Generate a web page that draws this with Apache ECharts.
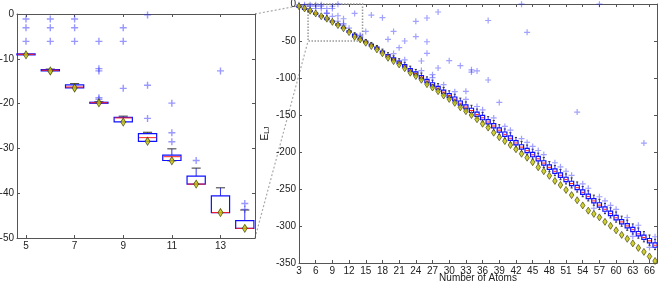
<!DOCTYPE html>
<html><head><meta charset="utf-8">
<script src="https://cdn.jsdelivr.net/npm/echarts@6/dist/echarts.min.js"></script>
<style>html,body{margin:0;padding:0;background:#fff}#c{width:658px;height:282px}</style>
</head><body><div id="c"></div>
<script>
const atoms = [3,4,5,6,7,8,9,10,11,12,13,14,15,16,17,18,19,20,21,22,23,24,25,26,27,28,29,30,31,32,33,34,35,36,37,38,39,40,41,42,43,44,45,46,47,48,49,50,51,52,53,54,55,56,57,58,59,60,61,62,63,64,65,66,67];
const globalMin = [-3.000,-6.000,-9.104,-12.712,-16.505,-19.821,-24.113,-28.422,-32.766,-37.968,-44.327,-47.845,
 -52.323,-56.816,-61.318,-66.531,-72.660,-77.177,-81.685,-86.810,-92.844,-97.349,
 -102.373,-108.316,-112.874,-117.822,-123.587,-128.287,-133.586,-139.636,-144.843,-150.045,
 -155.757,-161.826,-167.034,-173.928,-180.033,-185.250,-190.536,-196.278,-202.365,-207.689,
 -213.785,-220.680,-226.013,-232.200,-239.092,-244.550,-251.254,-258.230,-265.203,-272.209,
 -279.248,-283.643,-288.343,-294.378,-299.738,-305.876,-312.009,-317.354,-323.490,-329.620,
 -334.972,-341.111,-347.252];
const whiskerLow = [-3,-6,-9.10,-12.71,-16.50,-19.82,-24.11,-28.42,-32.77,-37.97,-44.33,-47.85,
 -52.3,-56.8,-61.3,-66.5,-72.7,-77.2,-81.7,-86.8,-92.8,-97.3,-102.4,-108.3,-112.9,-117.8,-123.6,-128.3,-133.6,-139.6,-144.8,-149.6,
 -154.9,-159.6,-165.3,-170.7,-176.3,-182.0,-187.4,-193.6,-199.2,-204.0,-209.6,-215.1,-220.9,-226.6,-232.0,-237.4,-243.2,-248.6,-254.1,-260.4,
 -266.1,-272.0,-277.7,-283.3,-289.1,-294.8,-300.4,-305.8,-310.9,-316.5,-321.4,-326.0,-331.9];
const boxLow = [-3,-6,-9.10,-12.70,-16.50,-19.82,-24.10,-28.42,-32.70,-37.97,-44.33,-47.85,
 -52.3,-56.6,-60.9,-66.1,-71.6,-76.1,-80.4,-85.4,-91.0,-95.7,-100.8,-106.3,-110.9,-115.9,-121.3,-126.1,-131.0,-136.6,-141.8,-146.6,
 -151.9,-156.4,-162.1,-167.5,-173.1,-178.8,-184.2,-190.4,-196.0,-200.8,-206.4,-211.9,-217.7,-223.4,-228.8,-234.2,-240.0,-245.4,-250.9,-257.2,
 -262.9,-268.8,-274.5,-280.1,-285.9,-291.6,-297.2,-302.6,-307.7,-313.3,-318.2,-322.8,-328.7];
const medians = [-3,-6,-9.00,-12.55,-16.30,-19.80,-23.20,-27.60,-31.85,-37.97,-44.33,-47.85,
 -51.3,-55.6,-59.8,-65.0,-70.2,-74.7,-78.9,-83.8,-89.3,-93.9,-98.9,-104.3,-108.9,-113.8,-119.1,-123.8,-128.6,-134.1,-139.3,-144.0,
 -149.3,-153.8,-159.5,-164.9,-170.5,-176.2,-181.5,-187.8,-193.4,-198.2,-203.8,-209.2,-215.0,-220.7,-226.1,-231.5,-237.3,-242.7,-248.2,-254.5,
 -260.2,-266.1,-271.8,-277.4,-283.2,-288.9,-294.5,-299.9,-305.0,-310.6,-315.5,-320.1,-326.0];
const boxHigh = [-3,-6,-8.90,-12.40,-15.80,-19.70,-23.06,-26.70,-31.50,-36.20,-40.60,-46.10,
 -50.1,-54.3,-58.4,-63.5,-68.5,-72.9,-77.0,-81.8,-87.2,-91.7,-96.6,-101.9,-106.4,-111.2,-116.4,-121.0,-125.7,-131.1,-136.2,-140.9,
 -146.1,-150.6,-156.3,-161.7,-167.3,-173.0,-178.3,-184.6,-190.2,-195.0,-200.6,-206.0,-211.8,-217.5,-222.9,-228.3,-234.1,-239.5,-245.0,-251.3,
 -257.0,-262.9,-268.6,-274.2,-280.0,-285.7,-291.3,-296.7,-301.8,-307.4,-312.3,-316.9,-322.8];
const whiskerHigh = [-3,-6,-8.90,-12.30,-15.55,-19.60,-22.80,-26.40,-30.10,-34.40,-38.80,-43.75,
 -47.9,-52.0,-56.0,-61.0,-65.8,-70.1,-74.0,-78.8,-84.0,-88.4,-93.3,-98.5,-102.9,-107.6,-112.7,-117.3,-121.9,-127.2,-132.3,-136.9,
 -142.0,-146.5,-152.2,-157.5,-163.1,-168.8,-174.0,-180.3,-185.9,-190.6,-196.2,-201.6,-207.4,-213.0,-218.4,-223.8,-229.6,-235.0,-240.5,-246.7,
 -252.4,-258.3,-264.0,-269.5,-275.4,-281.1,-286.7,-292.1,-297.2,-302.7,-307.6,-312.2,-318.0];
const outlierAtoms = [3,4,4,5,5,5,6,6,6,7,7,7,8,8,8,8,8,9,9,9,10,10,10,11,11,11,12,13,14,14,
 15,16,18,19,20,21,22,24,24,25,26,26,26,27,28,28,30,32,33,34,34,35,37,37,39,43,44,53,57,65,
 20,22,25,27,29,31,33,35,36,38,40,41,43,44,45,46,47,49,50,51,52,54,55,56,57,58,59,60,62,63,64,66,67];
const outlierValues = [-1,-1,-3,-1.1,-3.06,-6.1,-1.1,-3.06,-6.1,-1.1,-3.06,-6.1,-6.1,-12.2,-12.7,-18.7,-19.05,-3.06,-6.1,-16.6,-0.2,-15.9,-23.3,-19.9,-26.5,-28.5,-32.7,-12.7,-42.3,-43.6,
 -37,-14.9,-18.5,-47.7,-37,-59,-50,-23.4,-44,-77,-18.9,-51,-66.7,-95.5,-10.8,-86.5,-76.6,-83.3,-118,-89,-92,-90.5,-22.3,-102.7,-133,-0.3,-38.3,-146,-0.3,-188,
 -67,-75.5,-90,-99.5,-109,-118.5,-129,-138.5,-143,-154,-165.5,-170.5,-182,-187,-192.5,-198,-203.5,-214.5,-220,-226,-231.5,-243,-249,-276,-260.5,-266,-272,-277.5,-288.5,-314,-299,-329,-314.5];
const insetTicks = [5,7,9,11,13];
const mainTicks = [3,6,9,12,15,18,21,24,27,30,33,36,39,42,45,48,51,54,57,60,63,66];
const insetX = [4.63, 14.42];
const insetY = [-50, 0];

const FONT = 'Liberation Sans, Arial, sans-serif';
const AX = '#555';
const boxRows = atoms.map((n,i)=>[n, whiskerLow[i], boxLow[i], medians[i], boxHigh[i], whiskerHigh[i]]);
const minRows = atoms.map((n,i)=>[n, globalMin[i]]);
const outRows = outlierAtoms.map((n,i)=>[n, outlierValues[i]]);
const inInset = r => r[0] >= 5 && r[0] <= 14;

function renderBox(params, api) {
  const n = api.value(0);
  const lo = api.value(1), q1 = api.value(2), md = api.value(3), q3 = api.value(4), hi = api.value(5);
  const w = api.size([0.75, 0])[0];
  const pLo = api.coord([n, lo]), pQ1 = api.coord([n, q1]), pMd = api.coord([n, md]), pQ3 = api.coord([n, q3]), pHi = api.coord([n, hi]);
  const cx = pMd[0];
  const ch = [];
  const cw = w * 0.5;
  if (hi - q3 > 0.05) {
    ch.push({type:'line', shape:{x1:cx,y1:pQ3[1],x2:cx,y2:pHi[1]}, style:{stroke:'#3030ff', lineWidth:1}});
    ch.push({type:'line', shape:{x1:cx-cw/2,y1:pHi[1],x2:cx+cw/2,y2:pHi[1]}, style:{stroke:'#333', lineWidth:1}});
  }
  if (q1 - lo > 0.05) {
    ch.push({type:'line', shape:{x1:cx,y1:pQ1[1],x2:cx,y2:pLo[1]}, style:{stroke:'#3030ff', lineWidth:1}});
    ch.push({type:'line', shape:{x1:cx-cw/2,y1:pLo[1],x2:cx+cw/2,y2:pLo[1]}, style:{stroke:'#333', lineWidth:1}});
  }
  ch.push({type:'rect', shape:{x:cx-w/2, y:pQ3[1], width:w, height:Math.max(pQ1[1]-pQ3[1], 1)}, style:{stroke:'#1010ff', fill:'none', lineWidth:1.2}});
  ch.push({type:'line', shape:{x1:cx-w/2+0.5,y1:pMd[1],x2:cx+w/2-0.5,y2:pMd[1]}, style:{stroke:'#ff2020', lineWidth:1}});
  return {type:'group', children: ch};
}
function renderRect(params, api) {
  const a = api.coord([api.value(0), api.value(3)]);
  const b = api.coord([api.value(1), api.value(2)]);
  return {type:'rect', shape:{x:a[0], y:a[1], width:b[0]-a[0], height:b[1]-a[1]},
    style:{stroke:'#999', fill:'none', lineWidth:1.5, lineDash:[1.5,1.5]}};
}
const PLUS = 'path://M4,0h2v4h4v2h-4v4h-2v-4h-4v-2h4z';

function xAxisDef(grid, pos, range, ticks, labels, name) {
  return {
    type:'value', gridIndex:grid, position:pos, min:range[0], max:range[1],
    axisLine:{show:true, onZero:false, lineStyle:{color:AX, width:1}},
    axisTick:{show:true, inside:true, length:3, customValues:ticks, lineStyle:{color:AX}},
    axisLabel:{show:labels, customValues:ticks, color:'#222', fontSize:10, fontFamily:FONT, margin:3},
    splitLine:{show:false},
    name: name || '', nameLocation:'middle', nameGap:10, nameMoveOverlap:false,
    nameTextStyle:{color:'#222', fontSize:10, fontFamily:FONT}
  };
}
function yAxisDef(grid, pos, min, max, interval, labels, name) {
  return {
    type:'value', gridIndex:grid, position:pos, min:min, max:max, interval:interval,
    axisLine:{show:true, onZero:false, lineStyle:{color:AX, width:1}},
    axisTick:{show:true, inside:true, length:3, lineStyle:{color:AX}},
    axisLabel:{show:labels, color:'#222', fontSize:10, fontFamily:FONT, margin:3},
    splitLine:{show:false},
    name: name || '', nameLocation:'middle', nameGap:28, nameRotate:90, nameMoveOverlap:false,
    nameTextStyle:{color:'#222', fontSize:10, fontFamily:FONT,
      rich:{e:{fontSize:10, fontFamily:FONT, color:'#222'}, s:{fontSize:7, fontFamily:FONT, color:'#222', verticalAlign:'bottom', padding:[5,0,0,0]}}}
  };
}

const chart = echarts.init(document.getElementById('c'), null, {renderer:'canvas'});
const option = {
  animation:false,
  backgroundColor:'#fff',
  grid:[
    {left:17, top:14, width:238, height:224, outerBoundsMode:'none', containLabel:false},
    {left:299, top:4, width:358, height:259, outerBoundsMode:'none', containLabel:false}
  ],
  xAxis:[
    xAxisDef(0,'bottom',insetX,insetTicks,true),
    xAxisDef(0,'top',insetX,insetTicks,false),
    xAxisDef(1,'bottom',[3,67.35],mainTicks,true,'Number of Atoms'),
    xAxisDef(1,'top',[3,67.35],mainTicks,false)
  ],
  yAxis:[
    yAxisDef(0,'left',insetY[0],insetY[1],10,true),
    yAxisDef(0,'right',insetY[0],insetY[1],10,false),
    yAxisDef(1,'left',-350,0,50,true,'{e|E}{s|LJ}'),
    yAxisDef(1,'right',-350,0,50,false)
  ],
  series:[
    {type:'custom', name:'inset boxes', xAxisIndex:0, yAxisIndex:0, renderItem:renderBox, data:boxRows.filter(inInset), encode:{x:0,y:3}, z:2},
    {type:'scatter', name:'inset outliers', xAxisIndex:0, yAxisIndex:0, data:outRows.filter(inInset), symbol:PLUS, symbolSize:7,
      itemStyle:{color:'rgba(40,40,255,0.6)'}, z:3},
    {type:'scatter', name:'inset minima', xAxisIndex:0, yAxisIndex:0, data:minRows.filter(inInset), symbol:'diamond', symbolSize:[5,8],
      itemStyle:{color:'#c4c400', borderColor:'#3a3a00', borderWidth:0.8}, z:4},
    {type:'custom', name:'zoom rect', xAxisIndex:2, yAxisIndex:2, renderItem:renderRect, data:[[insetX[0], insetX[1], insetY[0], insetY[1]]], z:1},
    {type:'custom', name:'main boxes', xAxisIndex:2, yAxisIndex:2, renderItem:renderBox, data:boxRows, encode:{x:0,y:3}, z:2},
    {type:'scatter', name:'main outliers', xAxisIndex:2, yAxisIndex:2, data:outRows, symbol:PLUS, symbolSize:6,
      itemStyle:{color:'rgba(40,40,255,0.55)'}, z:3},
    {type:'scatter', name:'main minima', xAxisIndex:2, yAxisIndex:2, data:minRows, symbol:'diamond', symbolSize:[4.5,7],
      itemStyle:{color:'#c4c400', borderColor:'#3a3a00', borderWidth:0.8}, z:4}
  ]
};
chart.setOption(option);
const tr = chart.convertToPixel({seriesIndex:0}, [insetX[1], insetY[1]]);
const br = chart.convertToPixel({seriesIndex:0}, [insetX[1], insetY[0]]);
const rtl = chart.convertToPixel({seriesIndex:4}, [insetX[0], insetY[1]]);
const rbl = chart.convertToPixel({seriesIndex:4}, [insetX[0], insetY[0]]);
const ls = {stroke:'#aaa', lineWidth:1.2, lineDash:[2,2]};
chart.setOption({graphic:[
  {type:'line', shape:{x1:tr[0], y1:tr[1], x2:rtl[0], y2:rtl[1]}, style:ls, z:0},
  {type:'line', shape:{x1:br[0], y1:br[1], x2:rbl[0], y2:rbl[1]}, style:ls, z:0}
]});
</script></body></html>
